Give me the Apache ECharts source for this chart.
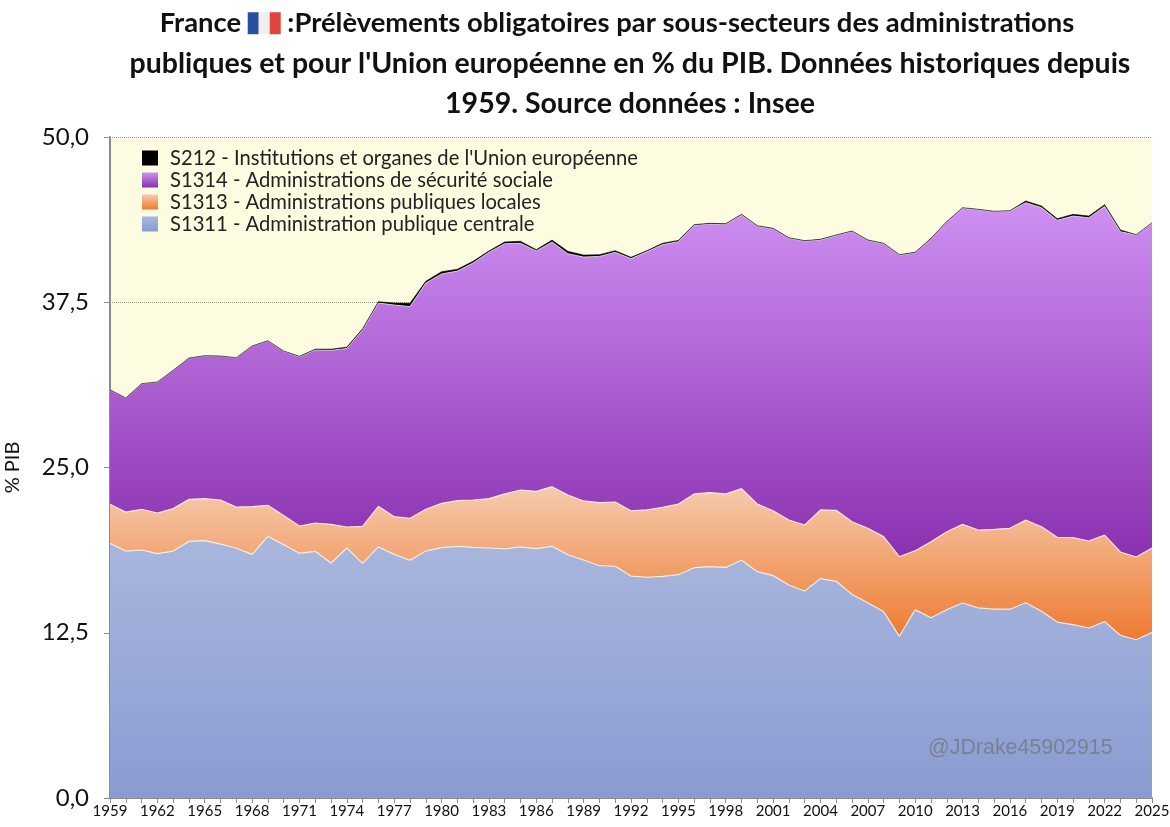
<!DOCTYPE html>
<html><head><meta charset="utf-8">
<style>html,body{margin:0;padding:0;background:#fff}#c{width:1170px;height:827px}</style>
<script src="https://cdn.jsdelivr.net/npm/echarts@6/dist/echarts.min.js"></script>
</head><body><div id="c"></div>
<script>
const years = [1959,1960,1961,1962,1963,1964,1965,1966,1967,1968,1969,1970,1971,1972,1973,1974,1975,1976,1977,1978,1979,1980,1981,1982,1983,1984,1985,1986,1987,1988,1989,1990,1991,1992,1993,1994,1995,1996,1997,1998,1999,2000,2001,2002,2003,2004,2005,2006,2007,2008,2009,2010,2011,2012,2013,2014,2015,2016,2017,2018,2019,2020,2021,2022,2023,2024,2025].map(String);
const s1311 = [19.26,18.68,18.76,18.48,18.68,19.41,19.47,19.21,18.89,18.43,19.79,19.16,18.51,18.66,17.78,18.91,17.75,18.99,18.43,17.98,18.68,18.94,19.04,18.96,18.91,18.84,18.99,18.86,19.04,18.40,18.00,17.57,17.53,16.79,16.70,16.76,16.89,17.42,17.50,17.44,17.98,17.12,16.82,16.11,15.66,16.60,16.39,15.40,14.77,14.10,12.23,14.25,13.64,14.25,14.75,14.38,14.28,14.28,14.77,14.13,13.31,13.12,12.86,13.34,12.31,11.97,12.53];
const s1313 = [2.96,2.95,3.08,3.08,3.21,3.18,3.17,3.33,3.12,3.61,2.35,2.20,2.06,2.14,2.92,1.59,2.80,3.07,2.85,3.18,3.16,3.35,3.45,3.58,3.73,4.16,4.31,4.34,4.51,4.52,4.47,4.77,4.86,4.94,5.09,5.23,5.35,5.58,5.60,5.56,5.42,5.12,4.91,4.92,4.99,5.19,5.37,5.50,5.63,5.67,6.02,4.46,5.75,5.89,5.95,5.89,6.04,6.12,6.26,6.39,6.41,6.57,6.58,6.55,6.30,6.26,6.38];
const s1314 = [8.66,8.62,9.49,9.90,10.45,10.68,10.81,10.88,11.29,12.14,12.43,12.43,12.80,13.09,13.17,13.50,14.85,15.38,16.01,16.01,17.11,17.35,17.37,17.93,18.64,18.93,18.66,18.18,18.51,18.25,18.45,18.63,18.89,19.07,19.53,19.87,19.84,20.31,20.32,20.39,20.71,21.01,21.32,21.31,21.47,20.43,20.79,21.95,21.77,22.15,22.81,22.54,22.92,23.43,23.92,24.23,24.03,24.00,24.00,24.14,23.98,24.33,24.45,24.87,24.23,24.36,24.59];
const s212 = [0.01,0.01,0.01,0.01,0.01,0.01,0.01,0.01,0.01,0.01,0.02,0.02,0.04,0.06,0.08,0.10,0.10,0.10,0.15,0.25,0.13,0.17,0.13,0.13,0.10,0.13,0.15,0.10,0.14,0.18,0.15,0.13,0.12,0.10,0.08,0.10,0.10,0.06,0.05,0.05,0.04,0.04,0.04,0.04,0.04,0.04,0.04,0.04,0.04,0.04,0.04,0.03,0.03,0.03,0.03,0.03,0.03,0.03,0.13,0.12,0.12,0.13,0.13,0.12,0.13,0.02,0.02];
const seriesNames = ["S212 - Institutions et organes de l'Union européenne","S1314 - Administrations de sécurité sociale","S1313 - Administrations publiques locales","S1311 - Administration publique centrale"];
const titleLine1a = "France ";
const titleLine1b = " :Prélèvements obligatoires par sous-secteurs des administrations";
const titleLine2 = "publiques et pour l'Union européenne en % du PIB. Données historiques depuis";
const titleLine3 = "1959. Source données : Insee";
const FONT = "Lato";
const grad = (a,b)=>new echarts.graphic.LinearGradient(0,0,0,1,[{offset:0,color:a},{offset:1,color:b}]);
const area = (name,data,a,b,line)=>({name,type:'line',stack:'t',data,symbol:'none',showSymbol:false,
  itemStyle:{color:grad(a,b)},
  lineStyle:line,areaStyle:{color:grad(a,b),opacity:1},emphasis:{disabled:true},animation:false});
const chart = echarts.init(document.getElementById('c'),null,{renderer:'canvas'});
chart.setOption({
  animation:false,backgroundColor:'#fff',
  title:{left:630,top:3,textAlign:'center',padding:0,
    text:'{a|'+titleLine1a+'}{fb| }{fw| }{fr| }{a|'+titleLine1b+'}{sp| }\n'+titleLine2+'\n'+titleLine3,
    textStyle:{fontFamily:FONT,fontWeight:'bold',fontSize:28.5,color:'#111',lineHeight:40.5,
      rich:{a:{fontFamily:FONT,fontWeight:'bold',fontSize:27.4,color:'#111'},sp:{width:26,height:10},
        fb:{width:11,height:22,backgroundColor:'#2a4f9e'},fw:{width:11,height:22,backgroundColor:'#f1eeee'},fr:{width:11,height:22,backgroundColor:'#e0453d'}}}},
  legend:{orient:'vertical',left:137,top:143,itemWidth:16,itemHeight:15,itemGap:2,icon:'rect',
    data:seriesNames,selectedMode:false,textStyle:{fontFamily:FONT,fontSize:20.2,lineHeight:20,color:'#222',padding:[0,0,0,7]}},
  grid:{left:110,right:18,top:137,bottom:29,show:true,backgroundColor:'#fdfbe0',borderWidth:0,outerBoundsMode:'none'},
  xAxis:{type:'category',data:years,boundaryGap:false,
    axisLine:{lineStyle:{color:'#8c8c8c',width:2}},
    axisTick:{show:true,interval:0,length:5,lineStyle:{color:'#8c8c8c'}},
    axisLabel:{interval:2,fontFamily:FONT,fontSize:15,color:'#111',margin:6,hideOverlap:false},splitLine:{show:false}},
  yAxis:{type:'value',min:0,max:50,interval:12.5,name:'% PIB',nameLocation:'middle',nameGap:87,
    nameTextStyle:{fontFamily:FONT,fontSize:20,color:'#111'},
    axisLine:{show:true,lineStyle:{color:'#8c8c8c',width:2}},
    axisTick:{show:true,length:6,lineStyle:{color:'#8c8c8c'}},
    axisLabel:{fontFamily:FONT,fontSize:24,color:'#111',margin:21,formatter:v=>v.toFixed(1).replace('.',',')},
    splitLine:{show:true,lineStyle:{color:'#9a9a80',type:'dotted',width:1}}},
  series:[
    area(seriesNames[3],s1311,'#a9b7dd','#8a9bd2',{color:'rgba(255,245,235,0.85)',width:1.2}),
    area(seriesNames[2],s1313,'#f6cbae','#ee7a30',{color:'rgba(255,245,235,0.85)',width:1.2}),
    area(seriesNames[1],s1314,'#cf90f3','#8a30b0',{color:'rgba(235,225,235,0.8)',width:1}),
    area(seriesNames[0],s212,'#000000','#000000',{color:'#000',width:0.6})
  ],
  graphic:[{type:'text',left:928,top:738,z:50,style:{text:'@JDrake45902915',fontFamily:'Liberation Sans',fontSize:21.4,fill:'#7a7f92'}}]
});
</script></body></html>
